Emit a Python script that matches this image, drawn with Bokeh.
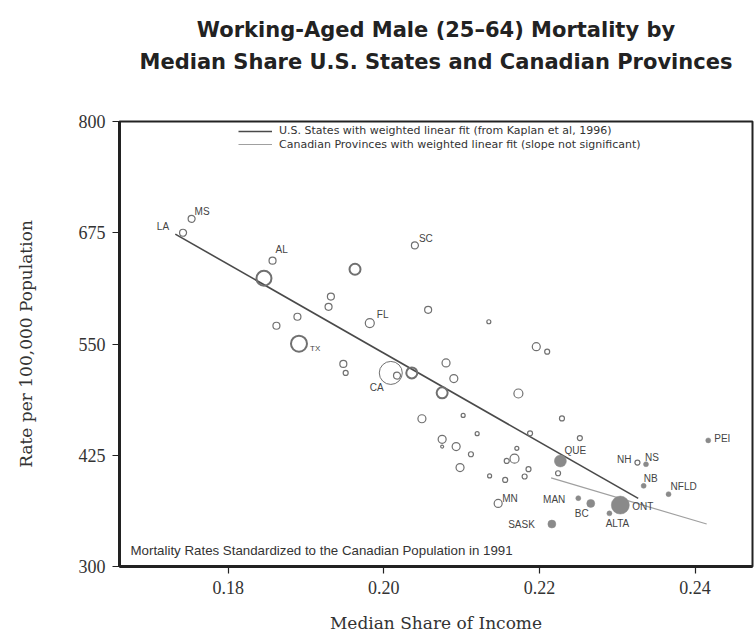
from bokeh.plotting import figure
from bokeh.models import (ColumnDataSource, FixedTicker, PrintfTickFormatter, Label,
                          Legend, LegendItem, Title)
from bokeh.core.properties import value
from bokeh.embed import file_html
from bokeh.resources import INLINE

# ---------------- data ----------------
us_x = [0.1742, 0.1753, 0.1857, 0.1846, 0.1963, 0.2040, 0.1932, 0.1929, 0.1889, 0.1862,
        0.1982, 0.2057, 0.2135, 0.1891, 0.2196, 0.2210, 0.1948, 0.1951, 0.2009, 0.2017,
        0.2036, 0.2080, 0.2090, 0.2075, 0.2102, 0.2049, 0.2120, 0.2075, 0.2075, 0.2093,
        0.2112, 0.2098, 0.2136, 0.2147, 0.2173, 0.2229, 0.2188, 0.2252, 0.2171, 0.2158,
        0.2168, 0.2186, 0.2181, 0.2156, 0.2224, 0.2326]
us_y = [675.0, 690.6, 643.6, 623.9, 634.0, 660.8, 603.3, 591.8, 580.6, 570.5,
        573.5, 588.4, 575.0, 550.3, 547.0, 541.4, 527.6, 517.5, 517.5, 514.5,
        517.5, 528.7, 511.2, 495.1, 469.7, 466.0, 449.2, 442.9, 434.7, 434.7,
        426.1, 411.2, 401.8, 370.9, 494.4, 466.4, 449.6, 444.3, 432.8, 418.6,
        421.2, 409.3, 401.1, 397.3, 404.8, 416.8]
us_weight = [3.5, 3.5, 3.5, 7.5, 5.5, 3.5, 3.5, 3.5, 3.5, 3.5,
             4.5, 3.5, 2.0, 8.0, 4.0, 2.5, 3.5, 2.5, 11.5, 3.5,
             5.5, 4.0, 4.0, 5.5, 2.0, 4.0, 2.0, 4.0, 1.5, 4.0,
             2.5, 4.0, 2.0, 4.0, 4.5, 2.5, 2.5, 2.5, 2.0, 2.5,
             4.5, 2.5, 2.5, 2.5, 2.5, 2.5]
us_label = ["LA", "MS", "AL", "", "", "SC", "", "", "", "",
            "FL", "", "", "TX", "", "", "", "", "CA", "",
            "", "", "", "", "", "", "", "", "", "",
            "", "", "", "MN", "", "", "", "", "", "",
            "", "", "", "", "", "NH"]

ca_label = ["QUE", "NS", "NB", "NFLD", "PEI", "MAN", "BC", "ONT", "ALTA", "SASK"]
ca_x = [0.2227, 0.2337, 0.2334, 0.2366, 0.2417, 0.2250, 0.2266, 0.2304, 0.2290, 0.2216]
ca_y = [418.6, 414.9, 390.6, 381.3, 441.7, 376.8, 370.9, 369.0, 359.7, 347.7]
ca_weight = [6.0, 2.5, 2.5, 2.5, 2.5, 2.5, 4.0, 9.0, 2.5, 4.0]

us_fit_x = [0.1732, 0.2327]
us_fit_y = [673.5, 376.5]
ca_fit_x = [0.2215, 0.2415]
ca_fit_y = [399.5, 347.7]

x_ticks = [0.18, 0.20, 0.22, 0.24]
y_ticks = [300, 425, 550, 675, 800]

title_lines = ["Working-Aged Male (25\u201364) Mortality by",
               "Median Share U.S. States and Canadian Provinces"]
legend_labels = ["U.S. States with weighted linear fit (from Kaplan et al, 1996)",
                 "Canadian Provinces with weighted linear fit (slope not significant)"]
note_text = "Mortality Rates Standardized to the Canadian Population in 1991"
x_title = "Median Share of Income"
y_title = "Rate per 100,000 Population"

# ---------------- style (label placement, px) ----------------
label_style = {
    "LA": ("right", -14, -6), "MS": ("left", 3, -7), "AL": ("left", 3, -11),
    "SC": ("left", 4, -7), "FL": ("left", 7, -9), "TX": ("left", 11, 5),
    "CA": ("center", -14, 15), "MN": ("left", 4, -5), "NH": ("right", -6, -3),
    "QUE": ("left", 4, -10), "NS": ("left", -1, -7), "NB": ("left", 0, -7),
    "NFLD": ("left", 2, -8), "PEI": ("left", 6, -2), "MAN": ("right", -13, 1),
    "BC": ("right", -2, 10), "ONT": ("left", 12, 1), "ALTA": ("center", 8, 10),
    "SASK": ("right", -17, 0),
}

W, H = 756, 638
FL, FT, FR, FB = 119, 121, 752, 566  # frame edges on the canvas
p = figure(width=W, height=H, output_backend="svg", toolbar_location=None,
           x_range=(0.16603, 0.24739), y_range=(300, 800),
           min_border_left=FL, min_border_right=W - FR, min_border_top=FT,
           min_border_bottom=H - FB)
p.grid.visible = False
p.background_fill_color = "white"
p.border_fill_color = "white"
p.outline_line_color = "#222222"
p.outline_line_width = 2

# titles stacked outward from the frame: an empty spacer, then line 2, then line 1
p.add_layout(Title(text=" ", text_font_size="20px", standoff=21), "above")
for txt, so in ((title_lines[1], 6), (title_lines[0], 6)):
    p.add_layout(Title(text=txt, align="center", text_font="DejaVu Sans",
                       text_font_style="bold", text_font_size="21px", text_color="#222222",
                       standoff=so), "above")

for ax in (p.xaxis[0], p.yaxis[0]):
    ax.axis_line_width = 3
    ax.axis_line_color = "#222222"
    ax.major_tick_line_color = "#222222"
    ax.major_tick_line_width = 1.2
    ax.major_tick_out = 7
    ax.major_tick_in = 0
    ax.minor_tick_line_color = None
    ax.major_label_text_font = "Liberation Serif"
    ax.major_label_text_font_size = "18px"
    ax.major_label_text_color = "#333333"
    ax.major_label_standoff = 7
    ax.axis_label_text_font = "DejaVu Serif"
    ax.axis_label_text_font_size = "17px"
    ax.axis_label_text_font_style = "normal"
    ax.axis_label_text_color = "#333333"
p.xaxis.ticker = FixedTicker(ticks=x_ticks)
p.xaxis.formatter = PrintfTickFormatter(format="%.2f")
p.yaxis.ticker = FixedTicker(ticks=y_ticks)
p.yaxis.formatter = PrintfTickFormatter(format="%d")
p.xaxis.axis_label = x_title
p.xaxis.axis_label_standoff = 16
p.yaxis.axis_label = y_title
p.yaxis.axis_label_standoff = 40

# fit lines
r_us = p.line(us_fit_x, us_fit_y, line_color="#4a4a4a", line_width=1.6)
r_ca = p.line(ca_fit_x, ca_fit_y, line_color="#a0a0a0", line_width=1.2)

# US points
us_lw = [1.0 if w > 10 else (2.0 if w >= 5 else 1.2) for w in us_weight]
us_src = ColumnDataSource(dict(x=us_x, y=us_y, s=[2 * w for w in us_weight], lw=us_lw))
p.scatter("x", "y", source=us_src, size="s", marker="circle", fill_color=None,
          line_color="#707070", line_width="lw")

# Canada points
ca_src = ColumnDataSource(dict(x=ca_x, y=ca_y, s=[2 * w for w in ca_weight]))
p.scatter("x", "y", source=ca_src, size="s", marker="circle", fill_color="#8a8a8a",
          line_color="#8a8a8a", line_width=0.5)

# point labels
lx, ly, lt, la, ldx, ldy, lfs = [], [], [], [], [], [], []
for xs, ys, names in ((us_x, us_y, us_label), (ca_x, ca_y, ca_label)):
    for xv, yv, nm in zip(xs, ys, names):
        if not nm:
            continue
        al, dx, dy = label_style[nm]
        lx.append(xv); ly.append(yv); lt.append(nm); la.append(al)
        ldx.append(dx); ldy.append(dy)
        lfs.append("8px" if nm == "TX" else "10px")
lab_src = ColumnDataSource(dict(x=lx, y=ly, t=lt, a=la, dx=ldx, dy=ldy, fs=lfs))
p.text("x", "y", text="t", source=lab_src, text_align="a", x_offset="dx", y_offset="dy",
       text_baseline="middle", text_font=value("Liberation Sans"), text_font_size="fs",
       text_color="#444444")

# legend: one box per row so the rows can sit close together
for lbl, rend, ybot in ((legend_labels[0], r_us, 429), (legend_labels[1], r_ca, 415.5)):
    lg = Legend(items=[LegendItem(label=lbl, renderers=[rend])], location=(119, ybot))
    lg.label_text_font = "DejaVu Sans"
    lg.label_text_font_size = "11px"
    lg.label_text_color = "#333333"
    lg.label_height = 10
    lg.glyph_height = 10
    lg.glyph_width = 34
    lg.label_standoff = 7
    lg.spacing = 0
    lg.padding = 0
    lg.margin = 0
    lg.border_line_alpha = 0
    lg.background_fill_alpha = 0
    p.add_layout(lg, "center")

# note (screen units measured from the frame's bottom-left corner)
p.add_layout(Label(x=130 - FL, y=FB - 550, x_units="screen", y_units="screen", text=note_text,
                   text_font="Liberation Sans", text_font_size="13.3px", text_color="#333333",
                   text_baseline="middle"))

open("out.html", "w").write(file_html(p, INLINE))
